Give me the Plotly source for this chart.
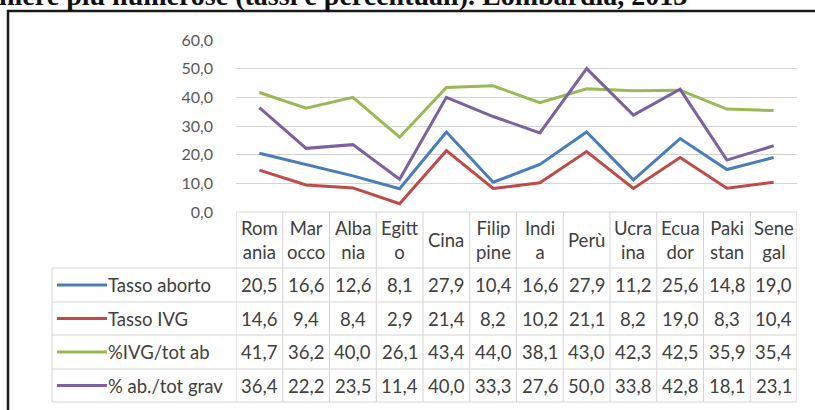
import plotly.graph_objects as go

# ---------------- data ----------------
categories = ["Rom<br>ania", "Mar<br>occo", "Alba<br>nia", "Egitt<br>o", "Cina", "Filip<br>pine",
              "Indi<br>a", "Perù", "Ucra<br>ina", "Ecua<br>dor", "Paki<br>stan", "Sene<br>gal"]
series_names = ["Tasso aborto", "Tasso IVG", "%IVG/tot ab", "% ab./tot grav"]
tasso_aborto = [20.5, 16.6, 12.6, 8.1, 27.9, 10.4, 16.6, 27.9, 11.2, 25.6, 14.8, 19.0]
tasso_ivg = [14.6, 9.4, 8.4, 2.9, 21.4, 8.2, 10.2, 21.1, 8.2, 19.0, 8.3, 10.4]
ivg_tot_ab = [41.7, 36.2, 40.0, 26.1, 43.4, 44.0, 38.1, 43.0, 42.3, 42.5, 35.9, 35.4]
ab_tot_grav = [36.4, 22.2, 23.5, 11.4, 40.0, 33.3, 27.6, 50.0, 33.8, 42.8, 18.1, 23.1]
y_ticks = [0, 10, 20, 30, 40, 50, 60]
title_text = "niere più numerose (tassi e percentuali). Lombardia, 2013"

series_values = [tasso_aborto, tasso_ivg, ivg_tot_ab, ab_tot_grav]
colors = ["#4A7EBB", "#BE4B48", "#98B954", "#7D60A0"]

W, H = 815, 410
def px(x):
    return x / W
def py(y):
    return 1 - y / H

FONT = "Lato, Calibri, Carlito, sans-serif"
TXT = "#404040"
GRID = "#D4D4D4"
TSIZE = 18.5

fig = go.Figure()
xs = list(range(len(categories)))
for name, vals, c in zip(series_names, series_values, colors):
    fig.add_trace(go.Scatter(x=xs, y=vals, mode="lines", name=name,
                             line=dict(color=c, width=3), showlegend=False))

shapes = []
annotations = []

# outer frame
shapes.append(dict(type="rect", xref="paper", yref="paper", x0=px(8), x1=1.02,
                   y0=-0.02, y1=py(11), line=dict(color="#1A1A1A", width=2.5)))

# table geometry (pixels)
top = 212
header_bottom = 268
row_lines = [268, 302, 335, 369, 402]
leg_left = 52

# horizontal lines
shapes.append(dict(type="line", xref="x", yref="paper", x0=-0.5, x1=11.5,
                   y0=py(top), y1=py(top), line=dict(color=GRID, width=1)))
for yl in row_lines:
    shapes.append(dict(type="line", xref="paper", yref="paper", x0=px(leg_left), x1=px(797),
                       y0=py(yl), y1=py(yl), line=dict(color=GRID, width=1)))
# vertical lines
for i in range(len(categories) + 1):
    shapes.append(dict(type="line", xref="x", yref="paper", x0=i - 0.5, x1=i - 0.5,
                       y0=py(top), y1=py(row_lines[-1]), line=dict(color=GRID, width=1)))
shapes.append(dict(type="line", xref="paper", yref="paper", x0=px(leg_left), x1=px(leg_left),
                   y0=py(header_bottom), y1=py(row_lines[-1]), line=dict(color=GRID, width=1)))

# header labels
for i, cat in enumerate(categories):
    annotations.append(dict(x=i, y=py((top + header_bottom) / 2), xref="x", yref="paper",
                            text=cat, showarrow=False, xanchor="center", yanchor="middle",
                            font=dict(family=FONT, size=TSIZE, color=TXT)))

# rows
for r, (name, vals, c) in enumerate(zip(series_names, series_values, colors)):
    yc = (row_lines[r] + row_lines[r + 1]) / 2
    shapes.append(dict(type="line", xref="paper", yref="paper", x0=px(57), x1=px(107),
                       y0=py(yc), y1=py(yc), line=dict(color=c, width=3)))
    annotations.append(dict(x=px(106), y=py(yc), xref="paper", yref="paper", text=name,
                            showarrow=False, xanchor="left", yanchor="middle",
                            font=dict(family=FONT, size=TSIZE, color=TXT)))
    for i, v in enumerate(vals):
        annotations.append(dict(x=i, y=py(yc), xref="x", yref="paper",
                                text=f"{v:.1f}".replace(".", ","), showarrow=False,
                                xanchor="center", yanchor="middle",
                                font=dict(family=FONT, size=TSIZE, color=TXT)))

# title (partially cut at top, as in the scanned source)
annotations.append(dict(x=px(-3), y=py(13), xref="paper", yref="paper", text="<b>" + title_text + "</b>",
                        showarrow=False, xanchor="left", yanchor="bottom",
                        font=dict(family="Liberation Serif, serif", size=28, color="#111111")))

fig.update_layout(
    width=W, height=H, margin=dict(l=0, r=0, t=0, b=0, pad=0, autoexpand=False),
    paper_bgcolor="white", plot_bgcolor="white",
    separators=",.",
    xaxis=dict(domain=[px(236), px(797)], range=[-0.5, 11.5], showgrid=False, automargin=False,
               showticklabels=False, zeroline=False, showline=False, fixedrange=True),
    yaxis=dict(domain=[py(212), py(40)], range=[0, 60], tickvals=y_ticks, tickformat=".1f",
               showgrid=True, gridcolor=GRID, gridwidth=1, zeroline=False, ticks="", automargin=False,
               ticklabelstandoff=22, tickfont=dict(family=FONT, size=16, color="#595959"),
               fixedrange=True),
    shapes=shapes, annotations=annotations,
)

fig.write_html("out.html", config={"displayModeBar": False},
               post_script="document.body.style.margin='0px';document.body.style.overflow='hidden';")
